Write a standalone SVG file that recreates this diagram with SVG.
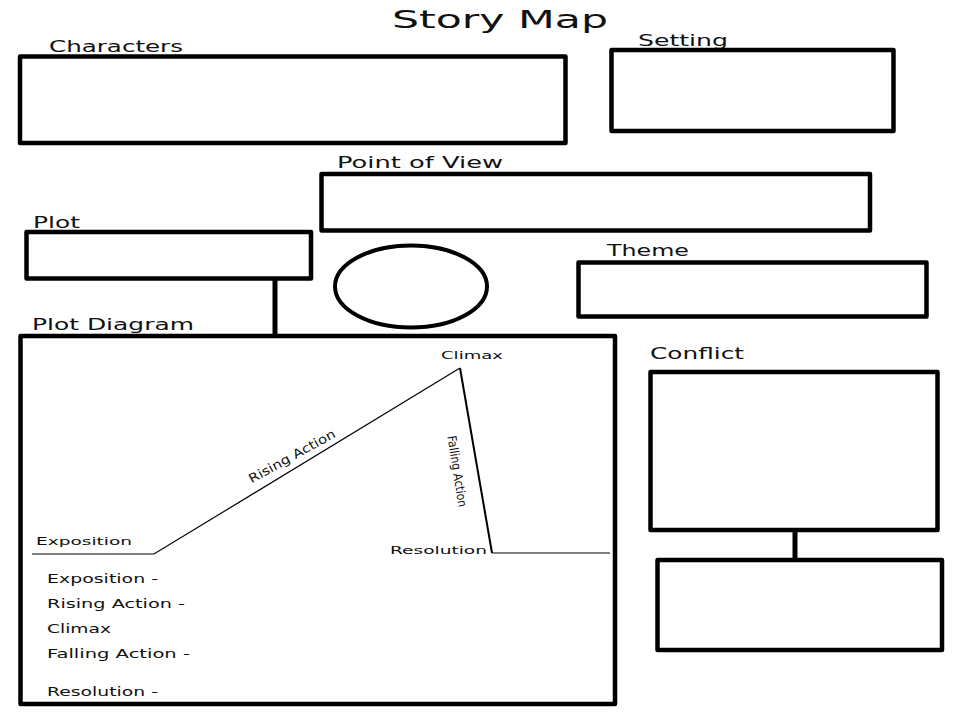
<svg xmlns="http://www.w3.org/2000/svg" width="960" height="720" viewBox="0 0 960 720">
  <style>
    .box { fill: #ffffff; stroke: #000000; stroke-width: 4.5; stroke-linejoin: round; }
    .lbl { font-family: "DejaVu Sans", Verdana, sans-serif; font-size: 15px; fill: #111111; }
    .small { font-family: "DejaVu Sans", Verdana, sans-serif; font-size: 11px; fill: #111111; }
    .rot { font-family: "DejaVu Sans", Verdana, sans-serif; font-size: 12.5px; fill: #111111; }
    .list { font-family: "DejaVu Sans", Verdana, sans-serif; font-size: 11.5px; fill: #111111; }
    .thin { fill: none; stroke: #000000; stroke-width: 1.2; }
    .conn { fill: none; stroke: #000000; stroke-width: 5; }
  </style>
  <rect x="0" y="0" width="960" height="720" fill="#ffffff"/>

  <g id="title">
    <text x="392" y="27.5" style="font-family: 'DejaVu Sans', Verdana, sans-serif; font-size: 24px; fill:#111111" textLength="216" lengthAdjust="spacingAndGlyphs">Story Map</text>
  </g>

  <g id="connectors">
    <line class="conn" x1="275" y1="279" x2="275" y2="336"/>
    <line class="conn" x1="795" y1="530" x2="795" y2="561"/>
  </g>

  <g id="characters">
    <text class="lbl" x="49" y="52" textLength="134" lengthAdjust="spacingAndGlyphs">Characters</text>
    <rect class="box" x="20" y="56.5" width="545.5" height="86.5"/>
  </g>

  <g id="setting">
    <text class="lbl" x="638" y="46" textLength="90" lengthAdjust="spacingAndGlyphs">Setting</text>
    <rect class="box" x="611.5" y="50" width="282" height="81"/>
  </g>

  <g id="point-of-view">
    <text class="lbl" x="337" y="168" textLength="166" lengthAdjust="spacingAndGlyphs">Point of View</text>
    <rect class="box" x="321.5" y="174" width="548.5" height="56.5"/>
  </g>

  <g id="plot">
    <text class="lbl" x="33" y="228" textLength="47" lengthAdjust="spacingAndGlyphs">Plot</text>
    <rect class="box" x="26.5" y="232" width="284.5" height="46.5"/>
  </g>

  <g id="circle">
    <ellipse cx="411" cy="286.5" rx="76" ry="41" fill="#ffffff" stroke="#000000" stroke-width="4"/>
  </g>

  <g id="theme">
    <text class="lbl" x="607" y="256" textLength="82" lengthAdjust="spacingAndGlyphs">Theme</text>
    <rect class="box" x="578.5" y="262.5" width="348" height="54"/>
  </g>

  <g id="plot-diagram">
    <text class="lbl" x="32" y="330" textLength="162" lengthAdjust="spacingAndGlyphs">Plot Diagram</text>
    <rect class="box" x="20.5" y="336" width="594.5" height="368"/>
    <polyline class="thin" points="32,554 154,554 460,368"/>
    <line x1="460" y1="368" x2="492" y2="553" stroke="#000000" stroke-width="2"/>
    <line class="thin" x1="492" y1="553" x2="610" y2="553"/>
    <text class="small" x="441" y="359" textLength="62" lengthAdjust="spacingAndGlyphs">Climax</text>
    <text class="small" x="36" y="545" textLength="96" lengthAdjust="spacingAndGlyphs">Exposition</text>
    <text class="small" x="390" y="554" textLength="97" lengthAdjust="spacingAndGlyphs">Resolution</text>
    <text class="rot" text-anchor="middle" transform="translate(294 460) rotate(-29)" textLength="97" lengthAdjust="spacingAndGlyphs">Rising Action</text>
    <text class="rot" text-anchor="middle" transform="translate(453 472) rotate(81)" textLength="72" lengthAdjust="spacingAndGlyphs">Falling Action</text>
    <text class="list" x="47" y="583" textLength="111" lengthAdjust="spacingAndGlyphs">Exposition -</text>
    <text class="list" x="47" y="608" textLength="138" lengthAdjust="spacingAndGlyphs">Rising Action -</text>
    <text class="list" x="47" y="633" textLength="64" lengthAdjust="spacingAndGlyphs">Climax</text>
    <text class="list" x="47" y="658" textLength="143" lengthAdjust="spacingAndGlyphs">Falling Action -</text>
    <text class="list" x="47" y="696" textLength="111" lengthAdjust="spacingAndGlyphs">Resolution -</text>
  </g>

  <g id="conflict">
    <text class="lbl" x="650" y="359" textLength="94" lengthAdjust="spacingAndGlyphs">Conflict</text>
    <rect class="box" x="650.5" y="372" width="287" height="158"/>
  </g>

  <g id="conflict-detail">
    <rect class="box" x="657.5" y="560" width="284.5" height="90"/>
  </g>
</svg>
